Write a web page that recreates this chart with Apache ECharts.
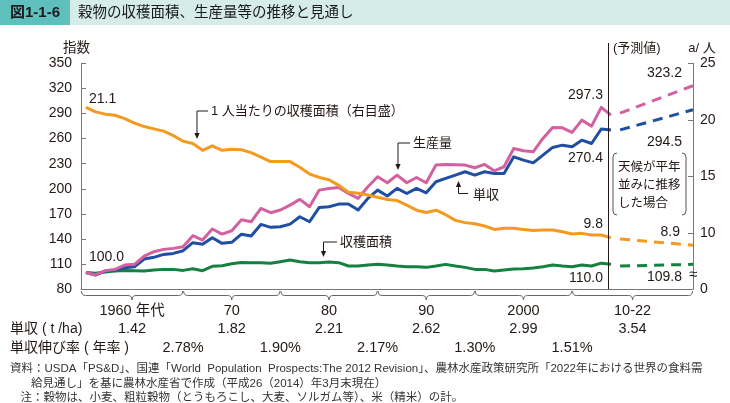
<!DOCTYPE html>
<html><head><meta charset="utf-8">
<script src="https://cdn.jsdelivr.net/npm/echarts@6/dist/echarts.min.js"></script>
<style>html,body{margin:0;padding:0;background:#fff}#c{width:730px;height:403px}</style>
</head><body><div id="c"></div>
<script>
// ---- data ----
const years = [1960,1961,1962,1963,1964,1965,1966,1967,1968,1969,1970,1971,1972,1973,1974,1975,1976,1977,1978,1979,1980,1981,1982,1983,1984,1985,1986,1987,1988,1989,1990,1991,1992,1993,1994,1995,1996,1997,1998,1999,2000,2001,2002,2003,2004,2005,2006,2007,2008,2009,2010,2011,2012,2013,2014];
const production = [100.0,97.1,102.2,103.8,109.0,109.8,119.7,124.9,127.7,128.9,130.9,144.0,138.8,152.0,146.0,150.0,163.0,160.7,176.6,171.5,174.7,180.6,187.4,178.6,198.5,200.5,201.7,194.5,188.6,202.5,214.4,207.3,216.4,207.3,213.6,207.3,228.4,229.2,228.8,228.4,225.2,229.2,221.6,226.4,248.3,245.5,244.3,260.2,273.3,272.9,267.4,282.1,274.9,297.3,288.0];
const yieldIndex = [100.0,97.1,101.8,103.0,105.8,107.0,116.2,118.2,121.7,122.9,126.1,135.7,133.7,141.6,134.9,136.1,145.8,143.6,157.5,154.0,154.8,157.9,166.7,160.7,177.8,178.6,181.8,181.8,174.7,188.6,198.5,191.4,200.5,194.5,200.5,195.3,208.5,212.5,216.4,220.4,216.4,220.4,218.4,218.4,238.3,234.3,231.1,240.3,249.5,252.2,250.2,258.2,254.2,271.5,270.4];
const areaIndex = [100.0,99.1,100.6,101.8,102.6,102.2,101.8,103.0,103.8,103.8,102.6,104.6,102.2,107.4,108.2,110.6,112.0,111.8,111.8,111.0,113.0,115.0,113.0,111.8,111.8,112.6,111.8,107.8,107.8,109.0,109.8,109.0,107.8,107.0,107.0,106.2,107.8,109.8,107.8,106.2,103.8,103.8,101.8,103.0,104.2,104.6,105.4,107.0,109.0,107.8,107.0,109.0,107.8,111.2,110.0];
const perCapita = [21.1,20.7,20.5,20.4,20.1,19.7,19.4,19.2,19.0,18.6,18.1,17.9,17.3,17.7,17.3,17.4,17.35,17.1,16.7,16.3,16.3,16.3,15.8,15.2,14.9,14.7,14.2,13.6,13.5,13.35,13.15,12.95,12.85,12.45,12.0,11.8,12.0,11.6,11.1,10.9,10.8,10.6,10.3,10.4,10.4,10.3,10.2,10.25,10.25,10.1,9.9,9.95,9.8,9.8,9.55];
const projYears = [2014, 2022];
const projProduction = [290.5, 323.2];
const projYield = [270.4, 294.5];
const projArea = [107.8, 109.8];
const projPerCapita = [9.45, 8.9];
const leftAxis = {min: 80, max: 350, interval: 30};
const rightAxis = {min: 5, max: 25, interval: 5};
const decadeBounds = [1959.5, 1970, 1980, 1990, 2000, 2010];
const decadeLabels = ['1960 年代', '70', '80', '90', '2000', '10-22'];
const yieldTha = ['1.42', '1.82', '2.21', '2.62', '2.99', '3.54'];
const yieldGrowth = ['2.78%', '1.90%', '2.17%', '1.30%', '1.51%'];

// ---- style ----
const FF = "'Liberation Sans','Noto Sans CJK JP',sans-serif";
const INK = '#231815';
const AX = '#777777';
const PINK = '#d3619f', BLUE = '#1f4ea3', GREEN = '#15803f', ORANGE = '#f39a1f';

function pairs(xs, ys) { return xs.map((x, i) => [x, ys[i]]); }
function line(name, xi, yi, xs, ys, color, dashed, z) {
  return {
    name, type: 'line', xAxisIndex: xi, yAxisIndex: yi, data: pairs(xs, ys),
    symbol: 'none', silent: true, z: z,
    lineStyle: {color, width: 3, type: dashed ? [10, 7] : 'solid', join: 'round', cap: 'butt'},
    itemStyle: {color}
  };
}

const chart = echarts.init(document.getElementById('c'), null, {renderer: 'canvas'});
const hiddenX = (gi, mn, mx) => ({
  gridIndex: gi, type: 'value', min: mn, max: mx,
  axisLine: {show: true, onZero: false, lineStyle: {color: AX, width: 1}},
  axisTick: {show: false}, axisLabel: {show: false}, splitLine: {show: false}
});
chart.setOption({
  animation: false,
  backgroundColor: '#fff',
  grid: [
    {left: 81, top: 63.3, width: 530, height: 226},
    {left: 611, top: 63.3, width: 82, height: 226}
  ],
  xAxis: [hiddenX(0, 1959.5, 2014), hiddenX(1, 2013, 2022)],
  yAxis: [
    {gridIndex: 0, type: 'value', position: 'left', min: leftAxis.min, max: leftAxis.max, interval: leftAxis.interval,
     axisLine: {show: true, lineStyle: {color: AX}}, axisTick: {show: true, inside: true, length: 5, lineStyle: {color: AX}},
     axisLabel: {fontSize: 14, color: INK, fontFamily: FF, margin: 9}, splitLine: {show: false}},
    {gridIndex: 0, type: 'value', position: 'right', min: rightAxis.min, max: rightAxis.max, show: false},
    {gridIndex: 1, type: 'value', position: 'left', min: leftAxis.min, max: leftAxis.max, show: false},
    {gridIndex: 1, type: 'value', position: 'right', min: rightAxis.min, max: rightAxis.max, interval: rightAxis.interval,
     axisLine: {show: true, lineStyle: {color: AX}}, axisTick: {show: true, inside: true, length: 5, lineStyle: {color: AX}},
     axisLabel: {fontSize: 14, color: INK, fontFamily: FF, margin: 7, formatter: v => (v === rightAxis.min ? '0' : String(v))},
     splitLine: {show: false}}
  ],
  series: [
    line('収穫面積', 0, 0, years, areaIndex, GREEN, false, 2),
    line('単収', 0, 0, years, yieldIndex, BLUE, false, 3),
    line('生産量', 0, 0, years, production, PINK, false, 4),
    line('1人当たりの収穫面積', 0, 1, years, perCapita, ORANGE, false, 5),
    line('収穫面積(予測)', 1, 2, projYears, projArea, GREEN, true, 2),
    line('単収(予測)', 1, 2, projYears, projYield, BLUE, true, 3),
    line('生産量(予測)', 1, 2, projYears, projProduction, PINK, true, 4),
    line('1人当たり(予測)', 1, 3, projYears, projPerCapita, ORANGE, true, 5)
  ]
});

// ---- annotations ----
const px0 = v => chart.convertToPixel({xAxisIndex: 0}, v);
const px1 = v => chart.convertToPixel({xAxisIndex: 1}, v);
const G = [];
function txt(t, x, y, size, align, fill, weight) {
  G.push({type: 'text', silent: true, z: 10, style: {text: t, x, y, fill: fill || INK, fontSize: size, fontFamily: FF,
    fontWeight: weight || 'normal', textAlign: align || 'left', textVerticalAlign: 'middle'}});
}
function pl(points, color, w) {
  G.push({type: 'polyline', silent: true, z: 10, shape: {points}, style: {stroke: color || INK, lineWidth: w || 1, fill: null}});
}
function seg(x1, y1, x2, y2, color) {
  G.push({type: 'line', silent: true, z: 10, shape: {x1, y1, x2, y2}, style: {stroke: color || INK, lineWidth: 1}});
}
function qc(x1, y1, cx, cy, x2, y2, color) {
  G.push({type: 'bezierCurve', silent: true, z: 10, shape: {x1, y1, x2, y2, cpx1: cx, cpy1: cy}, style: {stroke: color || INK, lineWidth: 1, fill: null}});
}
function arrowHead(x, y, dir) {
  const p = dir === 'down' ? [[x - 2.6, y - 6], [x + 2.6, y - 6], [x, y]] : [[x - 2.6, y + 6], [x + 2.6, y + 6], [x, y]];
  G.push({type: 'polygon', silent: true, z: 10, shape: {points: p}, style: {fill: INK}});
}

// header
G.push({type: 'rect', silent: true, z: 1, shape: {x: 0, y: 0, width: 730, height: 25}, style: {fill: '#d5ece9'}});
G.push({type: 'rect', silent: true, z: 1, shape: {x: 0, y: 0, width: 70, height: 25}, style: {fill: '#5fbfbc'}});
txt('図1-1-6', 10, 13, 15, 'left', '#1a1a1a', 'bold');
txt('穀物の収穫面積、生産量等の推移と見通し', 78, 13, 14.5, 'left', '#1a1a1a');

// axis titles
txt('指数', 76.5, 48, 13.5, 'center');
txt('(予測値)', 613, 48, 13, 'left');
txt('a/ 人', 702, 48, 13, 'center');

// projection divider
seg(608.5, 43, 608.5, 289);

// value labels
txt('21.1', 89, 99, 14);
txt('100.0', 89, 257, 14);
txt('297.3', 603, 95, 14, 'right');
txt('270.4', 603, 158, 14, 'right');
txt('9.8', 603, 224.5, 14, 'right');
txt('110.0', 603, 278.5, 14, 'right');
txt('323.2', 682, 73, 14, 'right');
txt('294.5', 682, 142, 14, 'right');
txt('8.9', 680, 232.5, 14, 'right');
txt('109.8', 682, 277.5, 14, 'right');
txt('≈', 693, 275, 15, 'center');

// series annotations with arrows
txt('1 人当たりの収穫面積（右目盛）', 211, 111, 13);
pl([[208, 111], [197, 111], [197, 134]]); arrowHead(197, 139, 'down');
txt('生産量', 413, 143, 13);
pl([[410, 143], [398, 143], [398, 165]]); arrowHead(398, 170, 'down');
txt('単収', 473, 195, 13);
pl([[468, 193.5], [458.5, 193.5], [458.5, 186]]); arrowHead(458.5, 181, 'up');
txt('収穫面積', 340, 242, 13);
pl([[337, 242], [323.5, 242], [323.5, 252]]); arrowHead(323.5, 257, 'down');

// weather box
txt('天候が平年', 618, 167.5, 12.5);
txt('並みに推移', 618, 185.5, 12.5);
txt('した場合', 618, 203.5, 12.5);
qc(617, 153, 613, 153, 613, 157, '#555'); seg(613, 157, 613, 211, '#555'); qc(613, 211, 613, 215, 617, 215, '#555');
qc(682, 153, 686, 153, 686, 157, '#555'); seg(686, 157, 686, 211, '#555'); qc(686, 211, 686, 215, 682, 215, '#555');

// braces under x axis
const bx = decadeBounds.map(px0).concat([px1(2022)]);
const y0 = 291, y1 = 295.5, y2 = 300, r = 4, BC = '#666';
for (let i = 0; i < bx.length - 1; i++) {
  const a = bx[i] + 0.5, b = bx[i + 1] - 0.5, m = (a + b) / 2;
  qc(a, y0, a, y1, a + r, y1, BC);
  seg(a + r, y1, m - r, y1, BC);
  qc(m - r, y1, m, y1, m, y2, BC);
  qc(m, y2, m, y1, m + r, y1, BC);
  seg(m + r, y1, b - r, y1, BC);
  qc(b - r, y1, b, y1, b, y0, BC);
  txt(decadeLabels[i], m, 311, 14.5, 'center');
  txt(yieldTha[i], m, 329, 14.5, 'center');
}
for (let i = 0; i < yieldGrowth.length; i++) {
  txt(yieldGrowth[i], bx[i + 1], 348, 14.5, 'center');
}
txt('単収 ( t /ha)', 10, 329, 14);
txt('単収伸び率 ( 年率 )', 10, 348, 14);

// footnotes
const FN = 11.5, FC = '#333';
txt('資料：USDA「PS&D」、国連「World  Population  Prospects:The 2012 Revision」、農林水産政策研究所「2022年における世界の食料需', 10, 369, FN, 'left', FC);
txt('給見通し」を基に農林水産省で作成（平成26（2014）年3月末現在）', 31, 384, FN, 'left', FC);
txt('注：穀物は、小麦、粗粒穀物（とうもろこし、大麦、ソルガム等）、米（精米）の計。', 20.5, 398, FN, 'left', FC);

chart.setOption({graphic: {elements: G}});
</script>
</body></html>
